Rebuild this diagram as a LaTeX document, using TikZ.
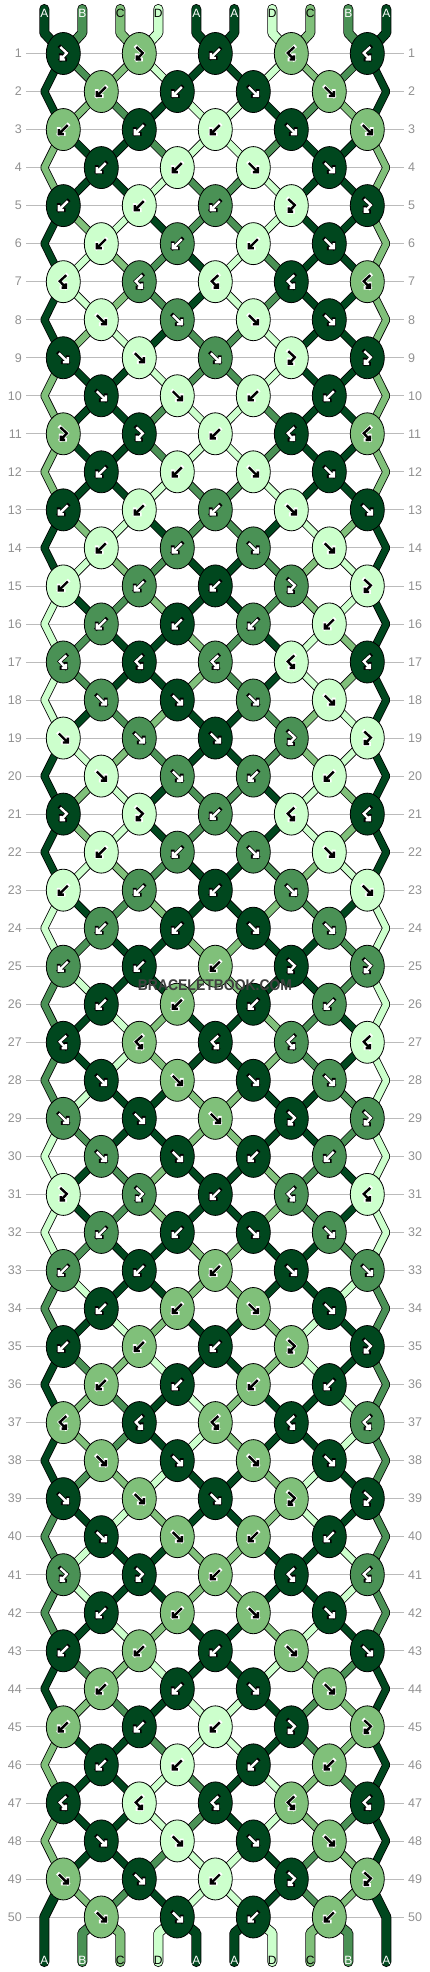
\documentclass[tikz,border=0pt]{standalone}
\usepackage{fontspec}
\setmainfont{Liberation Sans}
\usetikzlibrary{shapes.geometric}

\definecolor{strA}{HTML}{00471E}
\definecolor{strB}{HTML}{4A9155}
\definecolor{strC}{HTML}{80C07A}
\definecolor{strD}{HTML}{CCFFCC}
\colorlet{fgA}{white}\colorlet{fgB}{white}\colorlet{fgC}{black}\colorlet{fgD}{black}
\colorlet{bgA}{black}\colorlet{bgB}{black}\colorlet{bgC}{white}\colorlet{bgD}{white}
\definecolor{rowgrey}{HTML}{BBBBBB}
\definecolor{numgrey}{HTML}{909090}

\pgfdeclarelayer{background}
\pgfdeclarelayer{threads}
\pgfsetlayers{background,threads,main}

\newif\ifswap
\def\tyF{F}\def\tyB{B}\def\tyFB{FB}\def\tyBF{BF}

\tikzset{
    knot/.style={ellipse, draw=black, line width=0.8pt,
        minimum width=34pt, minimum height=42pt, inner sep=0pt},
    thread/.style={draw=black, line width=0.8pt, double=str#1,
        double distance=6.4pt, line join=bevel},
    tube/.style={thread=#1, double distance=8.4pt, line cap=round},
    arrline/.style={draw=fg\kc, line width=2.4pt,
        preaction={draw=bg\kc, line width=3.8pt, line cap=rect}},
    rownum/.style={text=numgrey, font=\fontsize{12.5}{13}\selectfont, inner sep=4pt},
    strname/.style={font=\fontsize{12}{12}\selectfont, inner sep=0pt},
    arrF/.pic={\draw[arrline] (-4.5,-4.5) -- (4.5,4.5) (4.5,-0.5) -- (4.5,4.5) -- (-0.5,4.5);},
    arrB/.pic={\draw[arrline] (4.5,-4.5) -- (-4.5,4.5) (-4.5,-0.5) -- (-4.5,4.5) -- (0.5,4.5);},
    arrFB/.pic={\draw[arrline] (-3,-6.5) -- (3.5,-0.5) -- (-2.5,6)
        (-2.5,1.8) -- (-2.5,6) -- (1.7,6);},
    arrBF/.pic={\draw[arrline] (3,-6.5) -- (-3.5,-0.5) -- (2.5,6)
        (2.5,1.8) -- (2.5,6) -- (-1.7,6);}
}

\begin{document}
\begin{tikzpicture}[x=1pt,y=-1pt]
    \useasboundingbox (0,0) rectangle (430,1972);

    % strings at the top
    \foreach \s [count=\p] in {A,B,C,D,A,A,D,C,B,A}{
        \expandafter\xdef\csname st\p\endcsname{\s}
        \expandafter\xdef\csname sc-0-\p\endcsname{\s}
        \node[strname, text=fg\s] (top-\p) at ({44.3+38*(\p-1)},13.5) {\s};
        \coordinate (T-\p) at ({44.3+38*(\p-1)},9);
        \coordinate (TB-\p) at ({44.3+38*(\p-1)},33);
    }

    % knots, row by row
    \foreach \ks [count=\r] in {%
        {FB,FB,B,BF,BF},{B,B,F,F},{B,B,B,F,F},{B,B,F,F},{B,B,B,FB,FB},%
        {B,B,B,F},{BF,BF,BF,BF,BF},{F,F,F,F},{F,F,F,FB,FB},{F,F,B,B},%
        {FB,FB,B,BF,BF},{B,B,F,F},{B,B,B,F,F},{B,B,F,F},{B,B,B,FB,FB},%
        {B,B,B,B},{BF,BF,BF,BF,BF},{F,F,F,F},{F,F,F,FB,FB},{F,F,B,B},%
        {FB,FB,B,BF,BF},{B,B,F,F},{B,B,B,F,F},{B,B,F,F},{B,B,B,FB,FB},%
        {B,B,B,B},{BF,BF,BF,BF,BF},{F,F,F,F},{F,F,F,FB,FB},{F,F,B,B},%
        {FB,FB,B,BF,BF},{B,B,F,F},{B,B,B,F,F},{B,B,F,F},{B,B,B,FB,FB},%
        {B,B,B,B},{BF,BF,BF,BF,BF},{F,F,F,F},{F,F,F,FB,FB},{F,F,B,B},%
        {FB,FB,B,BF,BF},{B,B,F,F},{B,B,B,F,F},{B,B,F,F},{B,B,B,FB,FB},%
        {B,B,B,B},{BF,BF,BF,BF,BF},{F,F,F,F},{F,F,B,FB,FB},{F,F,B,B}%
    }{
        \pgfmathsetmacro\yy{53.5+38.03*(\r-1)}
        \ifodd\r\relax\def\off{-1}\else\def\off{0}\fi
        \node[rownum, anchor=east] (nl-\r) at (26,\yy) {\r};
        \node[rownum, anchor=west] (nr-\r) at (404,\yy) {\r};
        \begin{pgfonlayer}{background}
            \draw[rowgrey, line width=0.8pt] (nl-\r.east) -- (nr-\r.west);
        \end{pgfonlayer}
        \foreach \t [count=\c] in \ks {
            \pgfmathtruncatemacro\p{2*\c+\off}
            \pgfmathtruncatemacro\q{\p+1}
            \edef\strL{\csname st\p\endcsname}
            \edef\strR{\csname st\q\endcsname}
            \edef\kt{\t}
            \ifx\kt\tyF  \let\kc\strL\swaptrue  \fi
            \ifx\kt\tyB  \let\kc\strR\swaptrue  \fi
            \ifx\kt\tyFB \let\kc\strL\swapfalse \fi
            \ifx\kt\tyBF \let\kc\strR\swapfalse \fi
            \node[knot, fill=str\kc, alias=P-\r-\p, alias=P-\r-\q] (k-\r-\c) at ({25.3+38*\p},\yy) {};
            \pic at (k-\r-\c.center) {arr\kt};
            \ifswap
                \expandafter\xdef\csname st\p\endcsname{\strR}
                \expandafter\xdef\csname st\q\endcsname{\strL}
            \fi
        }
        \foreach \p in {1,...,10}{
            \expandafter\xdef\csname sc-\r-\p\endcsname{\csname st\p\endcsname}
        }
        \ifodd\r\relax\else
            \coordinate (P-\r-1) at (44.3,\yy);
            \coordinate (P-\r-10) at (386.3,\yy);
        \fi
    }

    % strings at the bottom
    \foreach \s [count=\p] in {A,B,C,D,A,A,D,C,B,A}{
        \node[strname, text=fg\s] (bot-\p) at ({44.3+38*(\p-1)},1960.5) {\s};
        \coordinate (P-51-\p) at ({44.3+38*(\p-1)},1933);
        \coordinate (BE-\p) at ({44.3+38*(\p-1)},1962);
    }

    \node[font=\bfseries\fontsize{15.5}{16}\selectfont, text=black!75] (mark) at (215,985)
        {\scalebox{0.9}[1]{BRACELETBOOK.COM}};

    % threads between the knots
    \begin{pgfonlayer}{threads}
        \foreach \p in {1,...,10}{
            \edef\sc{\csname sc-0-\p\endcsname}
            \draw[tube=\sc] (T-\p) -- (TB-\p) -- (P-1-\p.center);
        }
        \foreach \r in {1,...,49}{
            \pgfmathtruncatemacro\rn{\r+1}
            \foreach \p in {2,...,9}{
                \edef\sc{\csname sc-\r-\p\endcsname}
                \draw[thread=\sc] (P-\r-\p.center) -- (P-\rn-\p.center);
            }
            \ifodd\r\relax\ifnum\r<49
                \pgfmathtruncatemacro\rnn{\r+2}
                \foreach \p in {1,10}{
                    \edef\sc{\csname sc-\r-\p\endcsname}
                    \draw[thread=\sc] (P-\r-\p.center) -- (P-\rn-\p) -- (P-\rnn-\p.center);
                }
            \fi\fi
        }
        \foreach \p in {2,...,9}{
            \edef\sc{\csname sc-50-\p\endcsname}
            \draw[tube=\sc] (P-50-\p.center) -- (P-51-\p) -- (BE-\p);
        }
        \foreach \p in {1,10}{
            \edef\sc{\csname sc-49-\p\endcsname}
            \draw[tube=\sc] (P-49-\p.center) -- (P-50-\p) -- (BE-\p);
        }
    \end{pgfonlayer}

\end{tikzpicture}
\end{document}
